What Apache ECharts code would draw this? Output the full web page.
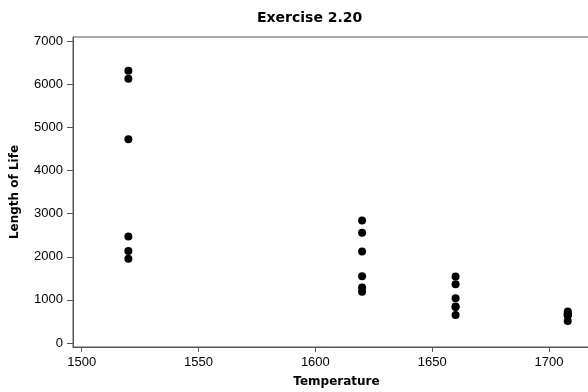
<!DOCTYPE html>
<html>
<head>
<meta charset="utf-8">
<script src="https://cdn.jsdelivr.net/npm/echarts@6/dist/echarts.min.js"></script>
<style>html,body{margin:0;padding:0;background:#fff}#c{width:588px;height:392px}</style>
</head>
<body>
<div id="c"></div>
<script>
var temperatures = [1520, 1620, 1660, 1708];
var life1520 = [1953, 2135, 2471, 4727, 6134, 6314];
var life1620 = [1190, 1286, 1550, 2125, 2557, 2845];
var life1660 = [651, 837, 848, 1038, 1361, 1543];
var life1708 = [511, 651, 651, 652, 688, 729];
var xTicks = [1500, 1550, 1600, 1650, 1700];
var yTicks = [0, 1000, 2000, 3000, 4000, 5000, 6000, 7000];

var groups = [life1520, life1620, life1660, life1708];
var points = [];
groups.forEach(function (g, i) {
  g.forEach(function (v) { points.push([temperatures[i], v]); });
});

var font = 'Liberation Sans, Arial, sans-serif';
var boldFont = 'DejaVu Sans, Verdana, sans-serif';
function plain(v) { return String(v); }
var chart = echarts.init(document.getElementById('c'));
chart.setOption({
  animation: false,
  title: {
    text: 'Exercise 2.20',
    left: 252, top: 6,
    textStyle: { fontFamily: boldFont, fontSize: 14, fontWeight: 'bold', color: '#000' }
  },
  grid: {
    left: 73, right: -12, top: 37, bottom: 45,
    outerBoundsMode: 'none', containLabel: false,
    show: true, borderColor: '#555', borderWidth: 1, backgroundColor: '#fff'
  },
  xAxis: {
    type: 'value', min: 1496.3, max: 1721.8,
    name: 'Temperature', nameLocation: 'middle', nameGap: 29,
    nameTextStyle: { fontFamily: boldFont, fontSize: 12, fontWeight: 'bold', color: '#000' },
    splitLine: { show: false },
    axisLine: { show: true, onZero: false, lineStyle: { color: '#555' } },
    axisTick: { show: true, length: 5, customValues: xTicks, lineStyle: { color: '#555' } },
    axisLabel: { customValues: xTicks, formatter: plain, margin: 9, fontFamily: font, fontSize: 13, color: '#000' }
  },
  yAxis: {
    type: 'value', min: -93, max: 7100,
    name: 'Length of Life', nameLocation: 'middle', nameGap: 52, nameRotate: 90,
    nameTextStyle: { fontFamily: boldFont, fontSize: 12, fontWeight: 'bold', color: '#000' },
    splitLine: { show: false },
    axisLine: { show: true, onZero: false, lineStyle: { color: '#555' } },
    axisTick: { show: true, length: 6, customValues: yTicks, lineStyle: { color: '#555' } },
    axisLabel: { customValues: yTicks, formatter: plain, margin: 10, fontFamily: font, fontSize: 13, color: '#000' }
  },
  series: [{
    type: 'scatter',
    data: points,
    symbol: 'circle',
    symbolSize: 8,
    itemStyle: { color: '#000', opacity: 1 }
  }]
});
</script>
</body>
</html>
